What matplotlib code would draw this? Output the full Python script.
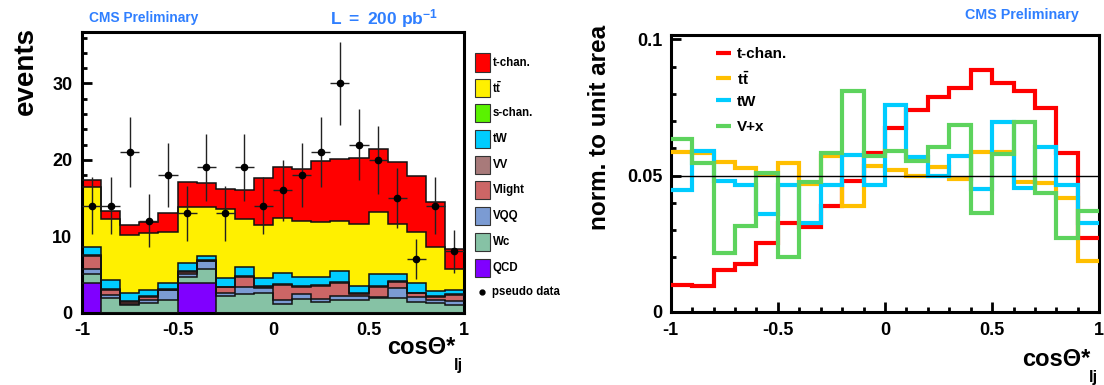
import numpy as np
import matplotlib
matplotlib.use('Agg')
import matplotlib.pyplot as plt
from matplotlib.patches import Rectangle
from matplotlib.lines import Line2D
from matplotlib.ticker import MultipleLocator

plt.rcParams['font.family'] = ['Liberation Sans', 'DejaVu Sans']
plt.rcParams['font.weight'] = 'bold'
plt.rcParams['mathtext.fontset'] = 'custom'
plt.rcParams['mathtext.rm'] = 'Liberation Sans:bold'
plt.rcParams['mathtext.bf'] = 'Liberation Sans:bold'
plt.rcParams['mathtext.it'] = 'Liberation Sans:bold'

# ---- binning: 20 bins in cos(theta*) ----
edges = np.linspace(-1, 1, 21)
centers = 0.5 * (edges[:-1] + edges[1:])

# ---- left panel: stacked expectation (events per bin) ----
qcd    = [3.8, 0, 0, 0, 0, 3.8, 3.8, 0, 0, 0, 0, 0, 0, 0, 0, 0, 0, 0, 0, 0]
wc     = [1.3, 1.9, 1.0, 1.2, 1.7, 0.9, 1.9, 2.1, 2.4, 2.5,
          1.05, 1.8, 1.35, 1.6, 1.6, 1.9, 1.9, 1.4, 1.3, 0.95]
vqq    = [0.6, 0.4, 0.1, 0.5, 1.2, 0.4, 1.0, 0.4, 0.9, 0.7,
          0.65, 0.6, 0.45, 0.6, 0.55, 0.1, 1.3, 0.6, 0.3, 0.55]
vlight = [1.7, 0.7, 0.3, 0.3, 0.1, 0.2, 0.1, 0.8, 1.4, 0.2,
          1.9, 1.0, 1.65, 1.7, 0.25, 1.4, 0.8, 0.5, 0.45, 0.8]
vv     = [0.1] * 20
tw     = [1.1, 1.2, 1.0, 0.9, 0.7, 1.1, 0.5, 1.1, 1.2, 1.0,
          1.5, 1.2, 1.15, 1.4, 1.0, 1.6, 1.0, 1.3, 0.65, 0.6]
schan  = [0.0] * 20
ttbar  = [7.9, 8.0, 7.6, 7.4, 6.8, 7.3, 6.4, 9.0, 6.2, 7.0,
          7.2, 7.3, 7.2, 6.6, 8.1, 8.0, 6.5, 6.6, 5.8, 2.7]
tchan  = [0.9, 1.0, 1.4, 1.5, 2.4, 3.3, 3.1, 2.7, 3.9, 6.1,
          6.6, 6.8, 7.9, 8.1, 8.7, 8.3, 8.1, 7.4, 5.9, 2.6]
pseudo_data = [14, 14, 21, 12, 18, 13, 19, 13, 19, 14,
               16, 18, 21, 30, 22, 20, 15, 7, 14, 8]

# stack order bottom -> top
stack_names  = ['QCD', 'Wc', 'VQQ', 'Vlight', 'VV', 'tW', 's-chan.', r'$\mathbf{t\bar{t}}$', 't-chan.']
stack_values = [qcd, wc, vqq, vlight, vv, tw, schan, ttbar, tchan]
stack_colors = ['#8000ff', '#86c2a5', '#7b9bd3', '#cc6666', '#a87a7a',
                '#00ccff', '#5af200', '#fff000', '#ff0000']

# ---- right panel: shapes normalised to unit area ----
shape_tchan = [0.0099, 0.0095, 0.0154, 0.0175, 0.0254, 0.0328, 0.0311, 0.0389, 0.0481, 0.0582,
               0.0674, 0.0741, 0.0788, 0.0823, 0.0888, 0.0839, 0.0811, 0.0750, 0.0585, 0.0270]
shape_ttbar = [0.0588, 0.0585, 0.0552, 0.0527, 0.0505, 0.0548, 0.0468, 0.0573, 0.0387, 0.0536,
               0.0521, 0.0497, 0.0533, 0.0487, 0.0588, 0.0588, 0.0478, 0.0472, 0.0419, 0.0188]
shape_tw    = [0.0448, 0.0592, 0.0481, 0.0466, 0.0359, 0.0466, 0.0326, 0.0466, 0.0576, 0.0466,
               0.0760, 0.0570, 0.0497, 0.0573, 0.0450, 0.0696, 0.0455, 0.0607, 0.0466, 0.0326]
shape_vx    = [0.0636, 0.0548, 0.0215, 0.0316, 0.0509, 0.0201, 0.0478, 0.0585, 0.0812, 0.0573,
               0.0592, 0.0555, 0.0607, 0.0686, 0.0362, 0.0579, 0.0698, 0.0438, 0.0273, 0.0371]

shape_names  = ['t-chan.', r'$\mathbf{t\bar{t}}$', 'tW', 'V+x']
shape_values = [shape_tchan, shape_ttbar, shape_tw, shape_vx]
shape_colors = ['#ff0000', '#ffbf00', '#00ccff', '#5dd35d']

CMS_BLUE = '#2f7fff'
W, H = 1104, 385


def fx(px):
    return px / W


def fy(py):
    return 1 - py / H


def style_axes(ax, xminor, ymajor, yminor):
    for sp in ax.spines.values():
        sp.set_linewidth(2.2)
    ax.xaxis.set_major_locator(MultipleLocator(0.5))
    ax.xaxis.set_minor_locator(MultipleLocator(xminor))
    ax.yaxis.set_major_locator(MultipleLocator(ymajor))
    ax.yaxis.set_minor_locator(MultipleLocator(yminor))
    ax.tick_params(which='both', direction='in', top=False, right=False, width=2)
    ax.tick_params(which='major', length=7, labelsize=13, pad=7)
    ax.tick_params(which='minor', length=3.5)
    for lab in ax.get_xticklabels() + ax.get_yticklabels():
        lab.set_fontweight('bold')


fig = plt.figure(figsize=(W / 100, H / 100), dpi=100)
fig.patch.set_facecolor('white')

# ================= left: stacked plot =================
ax1 = fig.add_axes([fx(82), fy(312.5), fx(464 - 82), (312.5 - 32.3) / H])
cum = np.zeros(20)
for vals, col in zip(stack_values, stack_colors):
    top = cum + np.array(vals)
    if np.any(np.array(vals) > 0):
        ax1.stairs(top, edges, baseline=cum.copy(), fill=True,
                   facecolor=col, edgecolor='none', zorder=2)
        ax1.stairs(top, edges, baseline=None, color='#111111', lw=1.1, zorder=3)
    cum = top

data = np.array(pseudo_data, dtype=float)
ax1.errorbar(centers, data, xerr=0.05, yerr=np.sqrt(data), fmt='o', color='black',
             ms=4.5, ecolor='#222222', elinewidth=1.0, capsize=0, zorder=5)
ax1.set_xlim(-1, 1)
ax1.set_ylim(0, 36.7)
style_axes(ax1, 0.1, 10, 2)
ax1.set_xticks([-1, -0.5, 0, 0.5, 1])
ax1.set_xticklabels(['-1', '-0.5', '0', '0.5', '1'])

fig.text(fx(26), fy(27), 'events', rotation=90, ha='center', va='top',
         fontsize=20, fontweight='bold')
fig.text(fx(455), fy(354), 'cos\u0398*', ha='right', va='baseline',
         fontsize=17, fontweight='bold')
fig.text(fx(454), fy(370), 'lj', ha='left', va='baseline', fontsize=12, fontweight='bold')
fig.text(fx(89), fy(22), 'CMS Preliminary', ha='left', va='baseline',
         fontsize=9.9, fontweight='bold', color=CMS_BLUE)
fig.text(fx(330), fy(24), r'$\mathbf{L\ =\ 200\ pb^{-1}}$', ha='left', va='baseline',
         fontsize=12.5, color=CMS_BLUE)

# legend of the stacked plot (top -> bottom)
leg_y = [62.5, 88, 113.3, 138.7, 165, 190.3, 215.8, 242.3, 268]
for name, col, yc in zip(stack_names[::-1], stack_colors[::-1], leg_y):
    fig.add_artist(Rectangle((fx(474.5), fy(yc + 9)), fx(15), 18 / H,
                             facecolor=col, edgecolor='#333333', lw=0.8,
                             transform=fig.transFigure))
    fig.text(fx(492.5), fy(yc), name, ha='left', va='center', fontsize=8.3, fontweight='bold')
fig.add_artist(Line2D([fx(481.7)], [fy(292)], marker='o', ms=3.5, color='black',
                      transform=fig.transFigure))
fig.text(fx(492.5), fy(292), 'pseudo data', ha='left', va='center', fontsize=8.3,
         fontweight='bold')

# ================= right: normalised shapes =================
ax2 = fig.add_axes([fx(670.7), fy(312), fx(1099.3 - 670.7), (312 - 35) / H])
for vals, col in zip(shape_values, shape_colors):
    ax2.stairs(vals, edges, baseline=None, color=col, lw=3.0, zorder=3)
ax2.axhline(0.05, color='black', lw=1.0, zorder=4)
ax2.set_xlim(-1, 1)
ax2.set_ylim(0, 0.1016)
style_axes(ax2, 0.1, 0.05, 0.01)
ax2.set_xticks([-1, -0.5, 0, 0.5, 1])
ax2.set_xticklabels(['-1', '-0.5', '0', '0.5', '1'])
ax2.set_yticks([0, 0.05, 0.1])
ax2.set_yticklabels(['0', '0.05', '0.1'])
ax2.tick_params(axis='y', pad=6)

fig.text(fx(600), fy(25), 'norm. to unit area', rotation=90, ha='center', va='top',
         fontsize=17.5, fontweight='bold')
fig.text(fx(1090), fy(366), 'cos\u0398*', ha='right', va='baseline',
         fontsize=17, fontweight='bold')
fig.text(fx(1089), fy(382), 'lj', ha='left', va='baseline', fontsize=12, fontweight='bold')
fig.text(fx(965), fy(19), 'CMS Preliminary', ha='left', va='baseline',
         fontsize=10.3, fontweight='bold', color=CMS_BLUE)

leg2_y = [53, 77.5, 100.5, 125.5]
for name, col, yc in zip(shape_names, shape_colors, leg2_y):
    fig.add_artist(Line2D([fx(716), fx(731)], [fy(yc), fy(yc)], color=col, lw=3.0,
                          solid_capstyle='butt', transform=fig.transFigure))
    fig.text(fx(737), fy(yc + 1.5), name, ha='left', va='center', fontsize=11,
             fontweight='bold')

fig.savefig('out.png', dpi=100, facecolor='white')
